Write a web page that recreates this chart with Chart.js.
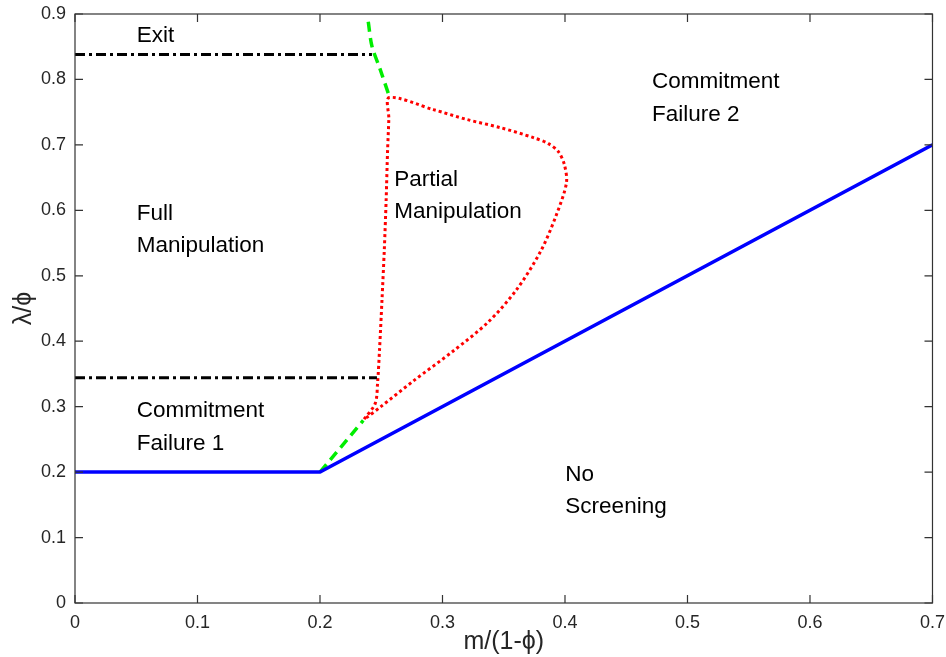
<!DOCTYPE html>
<html>
<head>
<meta charset="utf-8">
<script src="https://cdn.jsdelivr.net/npm/chart.js@4/dist/chart.umd.min.js"></script>
<style>
  html, body { margin: 0; padding: 0; background: #fff; }
  #wrap { width: 946px; height: 657px; }
</style>
</head>
<body>
<div id="wrap"><canvas id="regionChart" width="946" height="657"></canvas></div>
<script>
// Axis ticks
const xTicks = [0, 0.1, 0.2, 0.3, 0.4, 0.5, 0.6, 0.7];
const yTicks = [0, 0.1, 0.2, 0.3, 0.4, 0.5, 0.6, 0.7, 0.8, 0.9];

// Blue boundary (no screening)
const blueX = [0, 0.2, 0.7];
const blueY = [0.2, 0.2, 0.7];

// Green dashed pieces
const greenLowX = [0.2, 0.2353];
const greenLowY = [0.2, 0.279];
const greenTopX = [0.2394, 0.2424, 0.2492, 0.2568];
const greenTopY = [0.888, 0.851, 0.815, 0.773];

// Black dash-dot lines
const exitX = [0, 0.2424];
const exitY = [0.838, 0.838];
const cf1X = [0, 0.2465];
const cf1Y = [0.344, 0.344];

// Red dotted loop (partial manipulation)
const redX = [0.236, 0.2451, 0.247, 0.2486, 0.2506, 0.2525, 0.254, 0.2552, 0.2562, 0.2565,
  0.2925, 0.3203, 0.3472, 0.3742, 0.3864, 0.3946, 0.3995, 0.4012,
  0.393, 0.3799, 0.3603, 0.3374, 0.3088, 0.2761, 0.2492, 0.2386, 0.236];
const redY = [0.281, 0.305, 0.336, 0.387, 0.463, 0.54, 0.616, 0.693, 0.74, 0.7723,
  0.7539, 0.7386, 0.7264, 0.7111, 0.7019, 0.6897, 0.6698, 0.6422,
  0.5932, 0.5366, 0.4784, 0.4294, 0.3851, 0.3391, 0.2993, 0.284, 0.281];

// Region labels
const labelText = ['Exit', 'Commitment', 'Failure 2', 'Partial', 'Manipulation', 'Full', 'Manipulation',
  'Commitment', 'Failure 1', 'No', 'Screening'];
const labelX = [0.0504, 0.471, 0.471, 0.2606, 0.2606, 0.0504, 0.0504, 0.0504, 0.0504, 0.4003, 0.4003];
const labelY = [0.857, 0.7876, 0.737, 0.6376, 0.588, 0.5855, 0.5366, 0.2845, 0.2335, 0.1866, 0.137];

const pts = (xs, ys) => xs.map((v, i) => ({ x: v, y: ys[i] }));

function line(data, color, width, dash, tension) {
  return {
    data, showLine: true, borderColor: color, borderWidth: width, borderDash: dash,
    pointRadius: 0, fill: false, tension: tension || 0
  };
}

// box, inward ticks and text labels
const framePlugin = {
  id: 'frame',
  afterDatasetsDraw(chart) {
    const { ctx, chartArea: a, scales: { x, y } } = chart;
    ctx.save();
    ctx.strokeStyle = '#333';
    ctx.lineWidth = 1.2;
    ctx.strokeRect(a.left, a.top, a.right - a.left, a.bottom - a.top);
    ctx.beginPath();
    xTicks.forEach(v => {
      const px = x.getPixelForValue(v);
      ctx.moveTo(px, a.bottom); ctx.lineTo(px, a.bottom - 8);
      ctx.moveTo(px, a.top); ctx.lineTo(px, a.top + 8);
    });
    yTicks.forEach(v => {
      const py = y.getPixelForValue(v);
      ctx.moveTo(a.left, py); ctx.lineTo(a.left + 8, py);
      ctx.moveTo(a.right, py); ctx.lineTo(a.right - 8, py);
    });
    ctx.stroke();

    ctx.fillStyle = '#000';
    ctx.font = '22.5px "Liberation Sans", Arial, sans-serif';
    ctx.textBaseline = 'alphabetic';
    ctx.textAlign = 'left';
    labelText.forEach((t, i) => {
      ctx.fillText(t, x.getPixelForValue(labelX[i]), y.getPixelForValue(labelY[i]));
    });
    ctx.restore();
  }
};

const tickFont = { family: '"Liberation Sans", Arial, sans-serif', size: 18 };
const titleFont = { family: '"Liberation Sans", Arial, sans-serif', size: 25 };
const fmt = v => (v === 0 ? '0' : v.toFixed(1));

new Chart(document.getElementById('regionChart'), {
  type: 'scatter',
  data: {
    datasets: [
      line(pts(blueX, blueY), '#0000ff', 3.5, []),
      line(pts(greenLowX, greenLowY), '#00ee00', 3.5, [10, 6]),
      line(pts(greenTopX, greenTopY), '#00ee00', 3.5, [10, 6], 0.3),
      line(pts(exitX, exitY), '#000', 3, [10, 4, 3, 4]),
      line(pts(cf1X, cf1Y), '#000', 3, [10, 4, 3, 4]),
      line(pts(redX, redY), '#ff0000', 3, [3, 3], 0.3)
    ]
  },
  options: {
    responsive: false,
    animation: false,
    devicePixelRatio: 1,
    layout: { padding: { top: 14, right: 10, left: 0, bottom: 0 } },
    plugins: { legend: { display: false }, tooltip: { enabled: false } },
    scales: {
      x: {
        type: 'linear', min: 0, max: 0.7,
        afterBuildTicks: s => { s.ticks = xTicks.map(v => ({ value: v })); },
        afterFit: s => { s.height = 54; },
        grid: { display: false }, border: { display: false },
        ticks: { font: tickFont, color: '#262626', padding: 1, callback: fmt, maxRotation: 0 },
        title: { display: true, text: 'm/(1-ϕ)', font: titleFont, color: '#262626', padding: { top: 0, bottom: 0 } }
      },
      y: {
        type: 'linear', min: 0, max: 0.9,
        afterBuildTicks: s => { s.ticks = yTicks.map(v => ({ value: v })); },
        afterFit: s => { s.width = 75; },
        grid: { display: false }, border: { display: false },
        ticks: { font: tickFont, color: '#262626', padding: 1, callback: fmt },
        title: { display: true, text: 'λ/ϕ', font: titleFont, color: '#262626', padding: { top: 9, bottom: 0 } }
      }
    }
  },
  plugins: [framePlugin]
});
</script>
</body>
</html>
